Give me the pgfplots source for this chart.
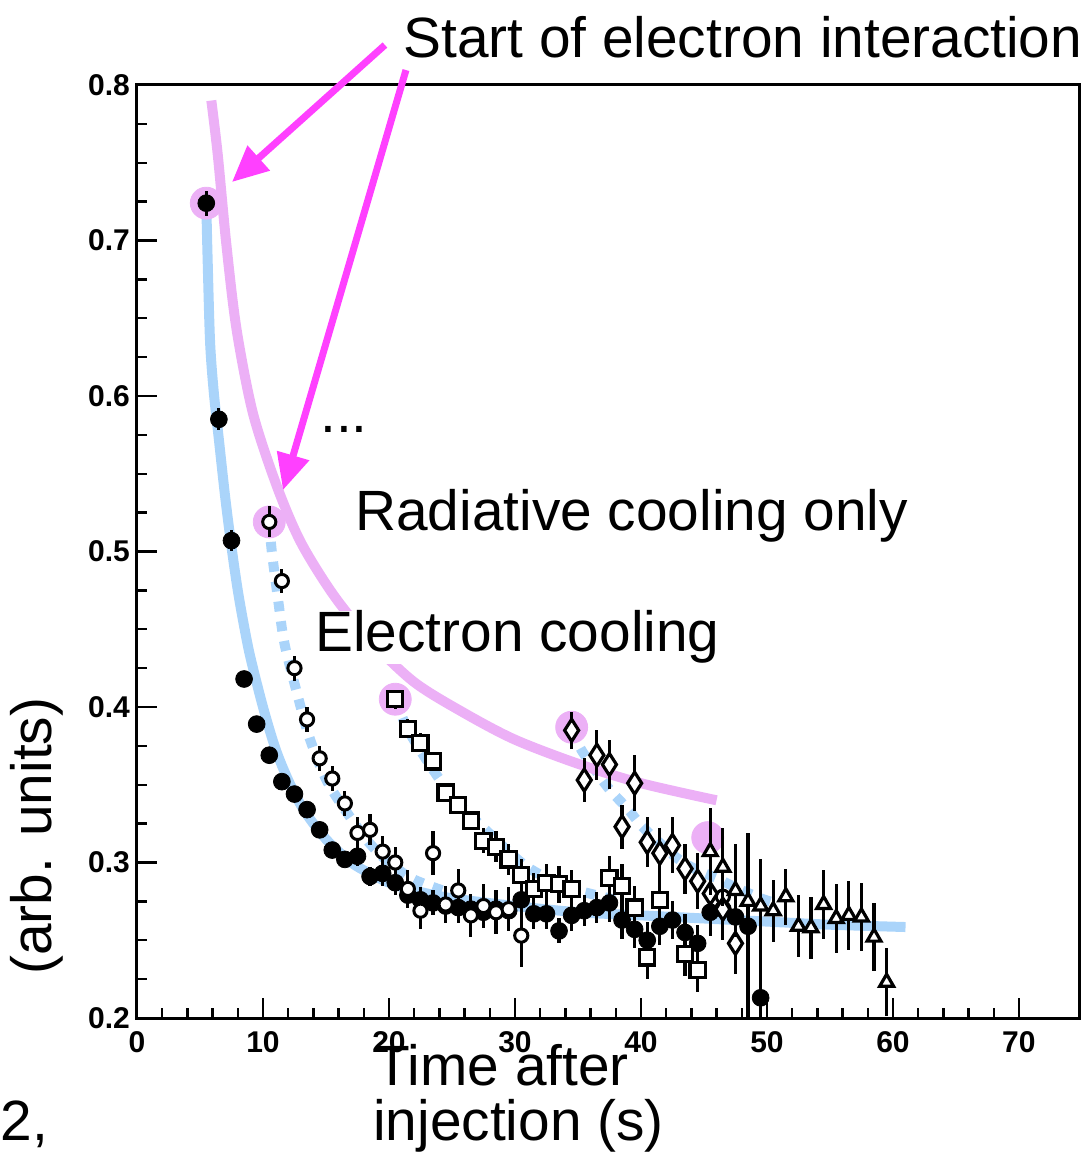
\documentclass[border=0pt]{standalone}
\usepackage{fontspec}
\setmainfont{Liberation Sans}
\usepackage{pgfplots}
\pgfplotsset{compat=1.18}
\usepackage{pgfplotstable}
\usetikzlibrary{arrows.meta}
\definecolor{fitblue}{RGB}{170,212,250}
\definecolor{radpink}{RGB}{236,176,246}
\definecolor{arrmag}{RGB}{255,64,255}

\pgfplotstableread{
x y e
5.5 0.724 0.008
6.5 0.585 0.007
7.5 0.507 0.007
8.5 0.418 0.005
9.5 0.389 0.005
10.5 0.369 0.005
11.5 0.352 0.005
12.5 0.344 0.005
13.5 0.334 0.005
14.5 0.321 0.005
15.5 0.308 0.005
16.5 0.302 0.005
17.5 0.304 0.006
18.5 0.291 0.006
19.5 0.293 0.008
20.5 0.287 0.008
21.5 0.279 0.008
22.5 0.276 0.008
23.5 0.274 0.008
24.5 0.272 0.010
25.5 0.271 0.010
26.5 0.270 0.010
27.5 0.268 0.010
28.5 0.270 0.012
29.5 0.269 0.012
30.5 0.276 0.012
31.5 0.267 0.010
32.5 0.267 0.010
33.5 0.256 0.008
34.5 0.266 0.010
35.5 0.269 0.010
36.5 0.271 0.010
37.5 0.274 0.012
38.5 0.263 0.012
39.5 0.257 0.012
40.5 0.250 0.012
41.5 0.259 0.012
42.5 0.263 0.012
43.5 0.255 0.012
44.5 0.248 0.012
45.5 0.268 0.015
46.5 0.270 0.015
47.5 0.265 0.020
48.5 0.259 0.060
49.5 0.213 0.075
}\dataA

\pgfplotstableread{
x y e
10.5 0.519 0.010
11.5 0.481 0.008
12.5 0.425 0.008
13.5 0.392 0.008
14.5 0.367 0.008
15.5 0.354 0.008
16.5 0.338 0.008
17.5 0.319 0.010
18.5 0.321 0.010
19.5 0.307 0.010
20.5 0.300 0.010
21.5 0.283 0.012
22.5 0.269 0.012
23.5 0.306 0.014
24.5 0.273 0.012
25.5 0.282 0.014
26.5 0.266 0.014
27.5 0.272 0.014
28.5 0.268 0.014
29.5 0.270 0.014
30.5 0.253 0.020
46.5 0.278 0.015
}\dataB

\pgfplotstableread{
x y e
20.5 0.405 0.006
21.5 0.386 0.006
22.5 0.377 0.006
23.5 0.365 0.006
24.5 0.345 0.006
25.5 0.337 0.006
26.5 0.327 0.006
27.5 0.314 0.008
28.5 0.310 0.010
29.5 0.302 0.010
30.5 0.292 0.010
31.5 0.283 0.010
32.5 0.287 0.012
33.5 0.286 0.012
34.5 0.283 0.012
37.5 0.290 0.014
38.5 0.285 0.014
39.5 0.271 0.014
40.5 0.239 0.014
41.5 0.276 0.014
43.5 0.241 0.014
44.5 0.231 0.014
}\dataC

\pgfplotstableread{
x y e
34.5 0.385 0.012
35.5 0.353 0.014
36.5 0.369 0.016
37.5 0.363 0.016
38.5 0.323 0.014
39.5 0.351 0.018
40.5 0.313 0.016
41.5 0.306 0.016
42.5 0.311 0.018
43.5 0.296 0.016
44.5 0.288 0.018
45.5 0.280 0.020
46.5 0.270 0.020
47.5 0.248 0.020
}\dataD

\pgfplotstableread{
x y e
45.5 0.307 0.028
46.5 0.297 0.025
47.5 0.282 0.030
48.5 0.275 0.030
49.5 0.272 0.030
50.5 0.269 0.020
51.5 0.278 0.018
52.5 0.259 0.020
53.5 0.258 0.020
54.5 0.273 0.022
55.5 0.264 0.022
56.5 0.266 0.022
57.5 0.265 0.022
58.5 0.252 0.022
59.5 0.223 0.022
}\dataE

\newcommand{\bigtext}{\fontsize{28.4}{34}\selectfont}

\begin{document}
\begin{tikzpicture}
\begin{axis}[
  scale only axis, width=471.2pt, height=466.5pt,
  xmin=0, xmax=74.8, ymin=0.2, ymax=0.8,
  clip mode=individual,
  axis line style={line width=1.5pt},
  tick style={black, line width=1.2pt},
  major tick length=10pt, minor tick length=5pt,
  tick align=inside, tick pos=left,
  xtick={0,10,20,30,40,50,60,70}, minor x tick num=4,
  ytick={0.2,0.3,0.4,0.5,0.6,0.7,0.8}, minor y tick num=3,
  ticklabel style={font=\bfseries\fontsize{15}{15}\selectfont},
  xticklabel style={yshift=-3pt},
  /pgf/number format/assume math mode=true,
  yticklabel style={/pgf/number format/.cd, fixed, precision=1, fixed zerofill},
]
% fit curves
\addplot[fitblue, line width=5pt, smooth] coordinates {
(5.5,0.724)(5.6,0.69)(5.8,0.635)(6.1,0.602)(6.5,0.572)(7,0.535)(7.5,0.503)(8,0.475)(8.5,0.452)(9,0.432)(10,0.400)(11,0.373)(12,0.353)(13,0.337)(14,0.325)(15,0.315)(16,0.307)(17,0.300)(18,0.295)(20,0.287)(22,0.282)(25,0.277)(30,0.272)(35,0.268)(40,0.266)(45,0.264)(50,0.262)(55,0.260)(61,0.2585)};
\addplot[fitblue, line width=5pt, dash pattern=on 5pt off 5pt, smooth] coordinates {
(10.5,0.519)(10.7,0.500)(11.2,0.469)(11.7,0.441)(12.7,0.409)(13.7,0.380)(15.1,0.352)(17.1,0.327)(18.5,0.312)(20,0.300)(22,0.289)(25,0.280)};
\addplot[fitblue, line width=5pt, dash pattern=on 5pt off 5pt, smooth] coordinates {
(20.5,0.405)(21.4,0.387)(22.5,0.372)(23.8,0.356)(24.7,0.346)(26,0.334)(27.8,0.320)(29.5,0.307)(31,0.297)(33,0.288)(35,0.282)(38,0.276)};
\addplot[fitblue, line width=5pt, dash pattern=on 5pt off 5pt, smooth] coordinates {
(34.5,0.385)(35.3,0.372)(36.5,0.358)(37.5,0.347)(39,0.334)(40,0.324)(41.3,0.314)(43,0.302)(44.5,0.295)(46,0.290)(47.5,0.284)(49.5,0.277)(51,0.273)};
% radiative cooling curve
\addplot[radpink, line width=5pt, smooth] coordinates {
(5.9,0.79)(6.4,0.756)(7.1,0.697)(7.9,0.643)(9.2,0.589)(11.1,0.542)(13,0.506)(15.6,0.472)(18.5,0.443)(22,0.416)(26,0.396)(30,0.379)(35,0.3635)(40,0.351)(46,0.340)};
% halos at start points
\addplot[radpink, only marks, mark=*, mark size=8pt, mark options={draw=radpink, fill=radpink}] coordinates {
(5.5,0.724)(10.5,0.519)(20.5,0.405)(34.5,0.387)(45.3,0.316)};
% data
\addplot[only marks, black, mark=*, mark size=4.2pt,
  error bars/.cd, y dir=both, y explicit, error mark=none,
  error bar style={line width=1.6pt, black}]
  table[x=x, y=y, y error=e] {\dataA};
\addplot[only marks, black, mark=*, mark size=3.3pt, mark options={fill=white, line width=1.5pt},
  error bars/.cd, y dir=both, y explicit, error mark=none,
  error bar style={line width=1.6pt, black}]
  table[x=x, y=y, y error=e] {\dataB};
\addplot[only marks, black, mark=square*, mark size=3.8pt, mark options={fill=white, line width=1.6pt},
  error bars/.cd, y dir=both, y explicit, error mark=none,
  error bar style={line width=1.6pt, black}]
  table[x=x, y=y, y error=e] {\dataC};
\addplot[only marks, black, mark=diamond*, mark size=5.5pt, mark options={fill=white, line width=1.6pt, xscale=0.85},
  error bars/.cd, y dir=both, y explicit, error mark=none,
  error bar style={line width=1.6pt, black}]
  table[x=x, y=y, y error=e] {\dataD};
\addplot[only marks, black, mark=triangle*, mark size=4pt, mark options={fill=white, line width=1.6pt},
  error bars/.cd, y dir=both, y explicit, error mark=none,
  error bar style={line width=1.6pt, black}]
  table[x=x, y=y, y error=e] {\dataE};

% annotations
\draw[arrmag, line width=3.5pt, -{Triangle[length=18pt,width=16pt]}] (axis cs:19.68,0.8257) -- (axis cs:7.54,0.7376);
\draw[arrmag, line width=3.5pt, -{Triangle[length=18pt,width=16pt]}] (axis cs:21.35,0.8096) -- (axis cs:11.59,0.5395);
\node[anchor=base west, inner sep=0pt] at (axis cs:21.11,0.8174) {\bigtext Start of electron interaction};
\node[anchor=base west, inner sep=0pt] at (axis cs:14.52,0.5768) {\bigtext ...};
\node[anchor=base west, inner sep=0pt] at (axis cs:17.30,0.5138) {\bigtext Radiative cooling only};
\node[anchor=base west, inner sep=0pt, fill=white] at (axis cs:14.13,0.4354) {\bigtext Electron cooling};
\node[anchor=base west, inner sep=0pt] at (axis cs:18.89,0.1569) {\bigtext Time after};
\node[anchor=base west, inner sep=0pt] at (axis cs:18.73,0.1215) {\bigtext injection (s)};
\node[anchor=base west, inner sep=0pt] at (axis cs:-10.87,0.1215) {\bigtext 2,};
\node[anchor=base west, inner sep=0pt, rotate=90] at (axis cs:-6.75,0.2277) {\bigtext (arb. units)};
\coordinate (BL) at (axis cs:-10.873,0.11254);
\coordinate (TR) at (axis cs:75.556,0.85466);
\end{axis}
\pgfresetboundingbox
\path[use as bounding box] (BL) rectangle (TR);
\end{tikzpicture}
\end{document}
